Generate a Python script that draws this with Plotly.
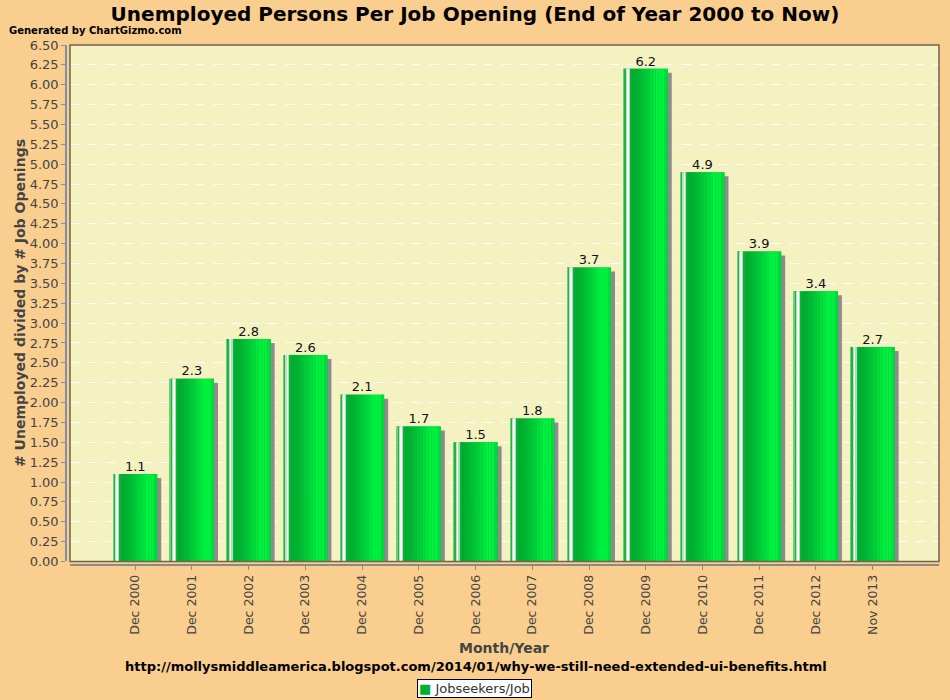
#!/usr/bin/env python3
"""Unemployed persons per job opening, Dec 2000 to Nov 2013 (ChartGizmo style)."""
import plotly.graph_objects as go

# --- data -------------------------------------------------------------------
periods = ["Dec 2000", "Dec 2001", "Dec 2002", "Dec 2003", "Dec 2004",
           "Dec 2005", "Dec 2006", "Dec 2007", "Dec 2008", "Dec 2009",
           "Dec 2010", "Dec 2011", "Dec 2012", "Nov 2013"]
ratio = [1.1, 2.3, 2.8, 2.6, 2.1, 1.7, 1.5, 1.8, 3.7, 6.2, 4.9, 3.9, 3.4, 2.7]
y_ticks = [i * 0.25 for i in range(27)]
series_name = "Jobseekers/Job"

# --- styling ----------------------------------------------------------------
PAPER = "#F9CE8F"
PLOT_BG = "#F5F2C2"
FONT = "DejaVu Sans"
PX = 1 / 56.7          # one pixel in x data units
PY = 1 / 79.2          # one pixel in y data units
BAR_PX = 44
BAR_W = BAR_PX * PX
xs = list(range(len(periods)))


def mix(c1, c2, t):
    a = [int(c1[i:i + 2], 16) for i in (1, 3, 5)]
    b = [int(c2[i:i + 2], 16) for i in (1, 3, 5)]
    return "#" + "".join(f"{round(p + (q - p) * t):02x}" for p, q in zip(a, b))


# stripes across the bar (start px, width px, colour) to fake the 3D gradient
stripes = [(0, 1.2, "#6fcc78"), (1.2, 1.3, "#22b244"), (2.5, 1.2, "#b2e8b8"),
           (3.7, 1.6, "#ffffff"), (5.3, 1.2, "#a4e3ad"), (6.5, 1.5, "#10ae3c")]
n = 12
for i in range(n):
    start = 8 + i * 3
    t = min(1.0, (i / 8) ** 1.3)
    c = mix("#00ac30", "#00f040", t)
    if i == n - 1:
        c = "#00dc3c"
    stripes.append((start, 3 if i < n - 1 else BAR_PX - start, c))

fig = go.Figure()

# drop shadow
fig.add_trace(go.Bar(
    x=xs, y=[v - 4 * PY for v in ratio], width=BAR_W, offset=-BAR_W / 2 + 4 * PX,
    marker=dict(color="#8c8c8c", line=dict(width=0)),
    showlegend=False, hoverinfo="skip",
))
# main bar
fig.add_trace(go.Bar(
    x=xs, y=ratio, width=BAR_W, offset=-BAR_W / 2, name=series_name,
    marker=dict(color="#00b030", line=dict(width=0)), showlegend=False,
))
for start, w, c in stripes:
    fig.add_trace(go.Bar(
        x=xs, y=ratio, width=w * PX, offset=-BAR_W / 2 + start * PX,
        marker=dict(color=c, line=dict(width=0)),
        showlegend=False, hoverinfo="skip",
    ))
# value labels
fig.add_trace(go.Scatter(
    x=xs, y=ratio, mode="text", text=[f"{v:.1f}" for v in ratio],
    textposition="top center", textfont=dict(family=FONT, size=13, color="#111111"),
    showlegend=False, hoverinfo="skip",
))

fig.update_layout(
    width=950, height=700,
    paper_bgcolor=PAPER, plot_bgcolor=PLOT_BG,
    font=dict(family=FONT, size=13, color="#444444"),
    barmode="overlay",
    showlegend=False,
    margin=dict(l=66, r=11, t=45, b=135, pad=0, autoexpand=False),
    title=dict(
        text="<b>Unemployed Persons Per Job Opening (End of Year 2000 to Now)</b>",
        font=dict(family=FONT, size=20, color="#000000"),
        x=0.5, xref="container", xanchor="center",
        y=1 - 14 / 700, yref="container", yanchor="middle",
    ),
    xaxis=dict(
        domain=[4 / 873, 1], anchor="free", position=0,
        range=[-1.15, 14.17], tickvals=xs, ticktext=periods, tickangle=-90,
        showgrid=False, zeroline=False,
        showline=True, linecolor="#8a8a8a", linewidth=1.5,
        ticks="outside", ticklen=4, tickcolor="#8a8a8a",
        tickfont=dict(family=FONT, size=12.5, color="#444444"),
    ),
    yaxis=dict(
        domain=[3.5 / 519, 1], anchor="free", position=0,
        range=[0, 6.5], tickvals=y_ticks, ticktext=[f"{v:.2f}" for v in y_ticks],
        showgrid=True, gridcolor="#ffffff", griddash="dash", gridwidth=1,
        zeroline=False,
        showline=True, linecolor="#8090a8", linewidth=1.5,
        ticks="outside", ticklen=4, tickcolor="#8090a8",
        tickfont=dict(family=FONT, size=13, color="#444444"),
    ),
    shapes=[dict(
        type="rect", xref="x domain", yref="y domain", x0=0, x1=1, y0=0, y1=1,
        line=dict(color="#6e6450", width=1.5), layer="above",
    )],
    annotations=[
        dict(text="<b>Generated by ChartGizmo.com</b>", xref="paper", yref="paper",
             x=(7 - 66) / 873, y=(564.5 - 31) / 519, xanchor="left", yanchor="middle",
             showarrow=False, font=dict(family=FONT, size=10, color="#000000")),
        dict(text="<b># Unemployed divided by # Job Openings</b>", xref="paper",
             yref="paper", x=(20 - 66) / 873, y=(564.5 - 303) / 519,
             xanchor="center", yanchor="middle", textangle=-90, showarrow=False,
             font=dict(family=FONT, size=14, color="#444444")),
        dict(text="<b>Month/Year</b>", xref="paper", yref="paper",
             x=(504 - 66) / 873, y=(564.5 - 647) / 519, xanchor="center",
             yanchor="middle", showarrow=False,
             font=dict(family=FONT, size=14, color="#444444")),
        dict(text="<b>http://mollysmiddleamerica.blogspot.com/2014/01/why-we-still-need-extended-ui-benefits.html</b>",
             xref="paper", yref="paper", x=(475.5 - 66) / 873, y=(564.5 - 666) / 519,
             xanchor="center", yanchor="middle", showarrow=False,
             font=dict(family=FONT, size=13, color="#000000")),
        # compact legend box, as drawn by ChartGizmo
        dict(text=f'<span style="color:#00b030">■</span> {series_name}',
             xref="paper", yref="paper", x=(474 - 66) / 873, y=(564.5 - 688) / 519,
             xanchor="center", yanchor="middle", showarrow=False,
             bgcolor="#ffffff", bordercolor="#000000", borderwidth=1, borderpad=1,
             font=dict(family=FONT, size=13, color="#333333")),
    ],
)

# the page's default 8px body margin would shift the whole chart
fig.write_html("out.html", config={"displayModeBar": False},
               post_script="document.body.style.margin='0';")
